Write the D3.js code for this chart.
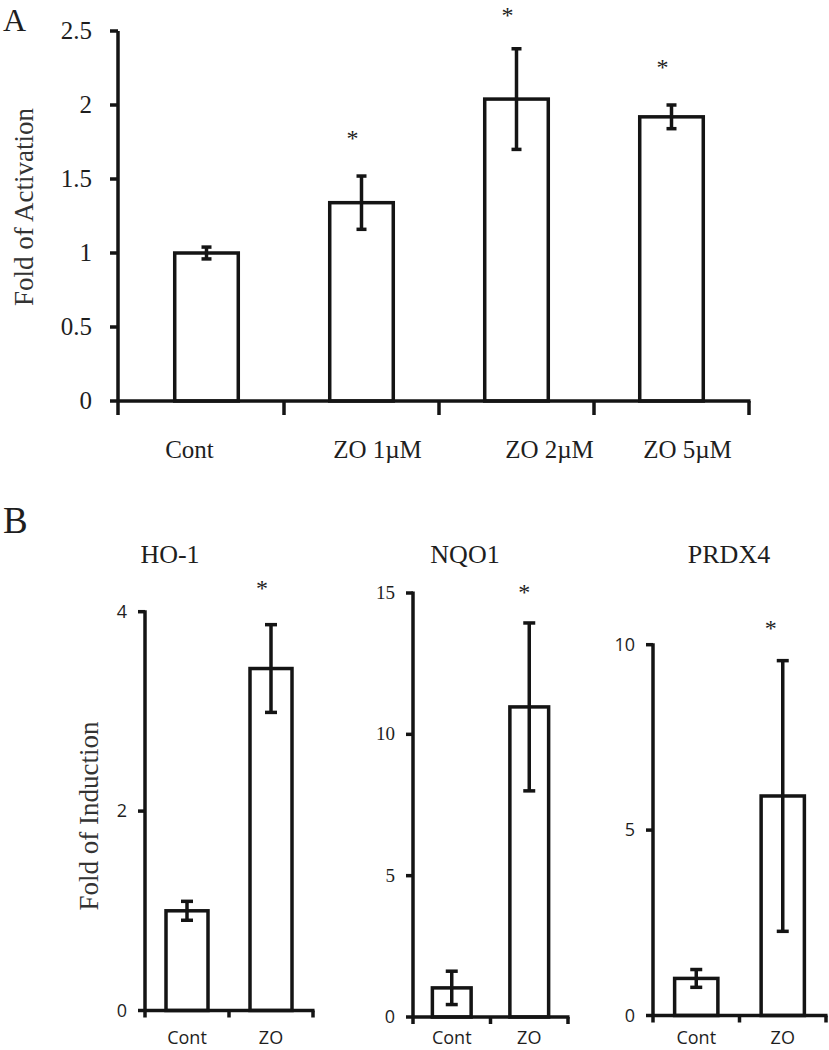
<!DOCTYPE html>
<html>
<head>
<meta charset="utf-8">
<script src="https://cdn.jsdelivr.net/npm/d3@7/dist/d3.min.js"></script>
<style>
  html, body { margin: 0; padding: 0; background: #fff; }
  svg { display: block; }
</style>
</head>
<body>
<svg id="chart" width="829" height="1050"></svg>
<script>
// ---------- Data ----------
// Panel A
const catsA = ["Cont", "ZO 1µM", "ZO 2µM", "ZO 5µM"];
const valsA = [1.0, 1.34, 2.04, 1.92];
const errA  = [0.04, 0.18, 0.34, 0.08];
const sigA  = [false, true, true, true];
const ticksA = [0, 0.5, 1, 1.5, 2, 2.5];
const tickLabelsA = ["0", "0.5", "1", "1.5", "2", "2.5"];

// Panel B
const genesB = ["HO-1", "NQO1", "PRDX4"];
const catsB = ["Cont", "ZO"];
const hoVals = [1.0, 3.43];
const hoErr  = [0.095, 0.44];
const nqVals = [1.03, 10.97];
const nqErr  = [0.59, 2.97];
const prVals = [1.0, 5.92];
const prErr  = [0.24, 3.65];
const sigB   = [false, true];
const hoTicks = [0, 2, 4];
const nqTicks = [0, 5, 10, 15];
const prTicks = [0, 5, 10];

// ---------- Styling ----------
const SERIF = "'Liberation Serif', 'Times New Roman', serif";
const SANS = "'Open Sans', 'Noto Sans', sans-serif";
const INK = "#141414";
const TXT = "#1e1e1e";

const svg = d3.select("#chart");

// ================= Panel A =================
(function panelA() {
  const axisX = 118, y0 = 401, yTop = 31;
  const y = d3.scaleLinear().domain([0, 2.5]).range([y0, yTop]);
  const x = d3.scaleBand().domain(catsA).range([129, 749])
    .paddingInner(0.59).paddingOuter(0.295);
  const g = svg.append("g");

  // bars
  g.selectAll("rect.bar").data(catsA).join("rect")
    .attr("x", d => x(d))
    .attr("y", (d, i) => y(valsA[i]))
    .attr("width", x.bandwidth())
    .attr("height", (d, i) => y0 - y(valsA[i]))
    .attr("fill", "#fff").attr("stroke", INK).attr("stroke-width", 3.5);

  // error bars
  const cap = 5;
  catsA.forEach((c, i) => {
    const cx = x(c) + x.bandwidth() / 2;
    const t = y(valsA[i] + errA[i]), b = y(valsA[i] - errA[i]);
    g.append("line").attr("x1", cx).attr("x2", cx).attr("y1", t).attr("y2", b)
      .attr("stroke", INK).attr("stroke-width", 3.5);
    [t, b].forEach(yy => g.append("line").attr("x1", cx - cap).attr("x2", cx + cap)
      .attr("y1", yy).attr("y2", yy).attr("stroke", INK).attr("stroke-width", 3.5));
    if (sigA[i]) {
      g.append("text").attr("x", cx - 9).attr("y", Math.max(t - 41 + 11, 23))
        .attr("text-anchor", "middle").attr("font-family", SERIF)
        .attr("font-size", 24).attr("fill", TXT).text("*");
    }
  });

  // y axis
  g.append("line").attr("x1", axisX).attr("x2", axisX).attr("y1", yTop).attr("y2", y0 + 14)
    .attr("stroke", INK).attr("stroke-width", 3.5);
  ticksA.forEach((t, i) => {
    g.append("line").attr("x1", axisX - 8).attr("x2", axisX).attr("y1", y(t)).attr("y2", y(t))
      .attr("stroke", INK).attr("stroke-width", 3.5);
    g.append("text").attr("x", 92).attr("y", y(t) + 8)
      .attr("text-anchor", "end").attr("font-family", SERIF).attr("font-size", 25)
      .attr("fill", TXT).text(tickLabelsA[i]);
  });

  // x axis
  g.append("line").attr("x1", axisX).attr("x2", 749 + 1.5).attr("y1", y0).attr("y2", y0)
    .attr("stroke", INK).attr("stroke-width", 3.5);
  const half = x.step() * x.paddingInner() / 2;
  const bounds = catsA.slice(1).map(c => x(c) - half).concat([x(catsA[catsA.length - 1]) + x.bandwidth() + half]);
  bounds.forEach(bx => g.append("line").attr("x1", bx).attr("x2", bx).attr("y1", y0).attr("y2", y0 + 14)
    .attr("stroke", INK).attr("stroke-width", 3.5));

  // category labels (slightly off-centre as in original)
  const labelShift = [-17, 16, 33, 16];
  catsA.forEach((c, i) => {
    g.append("text").attr("x", x(c) + x.bandwidth() / 2 + labelShift[i]).attr("y", 458)
      .attr("text-anchor", "middle").attr("font-family", SERIF).attr("font-size", 25)
      .attr("fill", TXT).text(c);
  });

  // y label
  g.append("text").attr("transform", "translate(33,207) rotate(-90)")
    .attr("text-anchor", "middle").attr("font-family", SERIF).attr("font-size", 27)
    .attr("fill", "#333").text("Fold of Activation");

  // panel letter
  svg.append("text").attr("x", 3).attr("y", 31).attr("font-family", SERIF)
    .attr("font-size", 32).attr("fill", TXT).text("A");
})();

// ================= Panel B =================
const subpanels = [
  { name: genesB[0], vals: hoVals, errs: hoErr, ticks: hoTicks, axisX: 145, right: 313, yTop: 611.7, y0: 1010.5,
    starDx: -9, starGap: 40, titleX: 170, tickFont: i => SANS, lblDy: 33 },
  { name: genesB[1], vals: nqVals, errs: nqErr, ticks: nqTicks, axisX: 413, right: 568, yTop: 593, y0: 1017,
    starDx: -5, starGap: 34, titleX: 465, tickFont: t => (t === 0 ? SANS : SERIF), lblDy: 27 },
  { name: genesB[2], vals: prVals, errs: prErr, ticks: prTicks, axisX: 653, right: 826, yTop: 644.7, y0: 1015.5,
    starDx: -12, starGap: 36, titleX: 729, tickFont: t => SANS, lblDy: 28.5 }
];

subpanels.forEach(p => {
  const g = svg.append("g");
  const maxT = p.ticks[p.ticks.length - 1];
  const y = d3.scaleLinear().domain([0, maxT]).range([p.y0, p.yTop]);
  const x = d3.scaleBand().domain(catsB).range([p.axisX, p.right])
    .paddingInner(0.5).paddingOuter(0.25);

  g.selectAll("rect").data(catsB).join("rect")
    .attr("x", d => x(d))
    .attr("y", (d, i) => y(p.vals[i]))
    .attr("width", x.bandwidth())
    .attr("height", (d, i) => p.y0 - y(p.vals[i]))
    .attr("fill", "#fff").attr("stroke", INK).attr("stroke-width", 3.5);

  const cap = 6;
  catsB.forEach((c, i) => {
    const cx = x(c) + x.bandwidth() / 2;
    const t = y(p.vals[i] + p.errs[i]), b = y(p.vals[i] - p.errs[i]);
    g.append("line").attr("x1", cx).attr("x2", cx).attr("y1", t).attr("y2", b)
      .attr("stroke", INK).attr("stroke-width", 3.5);
    [t, b].forEach(yy => g.append("line").attr("x1", cx - cap).attr("x2", cx + cap)
      .attr("y1", yy).attr("y2", yy).attr("stroke", INK).attr("stroke-width", 3.5));
    if (sigB[i]) {
      g.append("text").attr("x", cx + p.starDx).attr("y", t - p.starGap + 11)
        .attr("text-anchor", "middle").attr("font-family", SERIF).attr("font-size", 24)
        .attr("fill", TXT).text("*");
    }
  });

  // y axis
  g.append("line").attr("x1", p.axisX).attr("x2", p.axisX).attr("y1", p.yTop - 1.5).attr("y2", p.y0 + 7)
    .attr("stroke", INK).attr("stroke-width", 3.5);
  p.ticks.forEach(t => {
    g.append("line").attr("x1", p.axisX - 7).attr("x2", p.axisX).attr("y1", y(t)).attr("y2", y(t))
      .attr("stroke", INK).attr("stroke-width", 3.5);
    const f = p.tickFont(t);
    g.append("text").attr("x", p.axisX - 18).attr("y", y(t) + 6)
      .attr("text-anchor", "end").attr("font-family", f)
      .attr("font-size", f === SANS ? 18 : 19).attr("fill", TXT).text(String(t));
  });

  // x axis
  g.append("line").attr("x1", p.axisX).attr("x2", p.right + 1.5).attr("y1", p.y0).attr("y2", p.y0)
    .attr("stroke", INK).attr("stroke-width", 3.5);
  [p.axisX + x.step(), p.right].forEach(bx =>
    g.append("line").attr("x1", bx).attr("x2", bx).attr("y1", p.y0).attr("y2", p.y0 + 7)
      .attr("stroke", INK).attr("stroke-width", 3.5));

  catsB.forEach(c => {
    g.append("text").attr("x", x(c) + x.bandwidth() / 2).attr("y", p.y0 + p.lblDy)
      .attr("text-anchor", "middle").attr("font-family", SANS).attr("font-size", 18)
      .attr("fill", TXT).text(c);
  });

  // title
  g.append("text").attr("x", p.titleX).attr("y", 563)
    .attr("text-anchor", "middle").attr("font-family", SERIF).attr("font-size", 26)
    .attr("fill", TXT).text(p.name);
});

// y label for panel B
svg.append("text").attr("transform", "translate(98,816) rotate(-90)")
  .attr("text-anchor", "middle").attr("font-family", SERIF).attr("font-size", 27)
  .attr("fill", "#333").text("Fold of Induction");

svg.append("text").attr("x", 3).attr("y", 533).attr("font-family", SERIF)
  .attr("font-size", 37).attr("fill", TXT).text("B");
</script>
</body>
</html>
